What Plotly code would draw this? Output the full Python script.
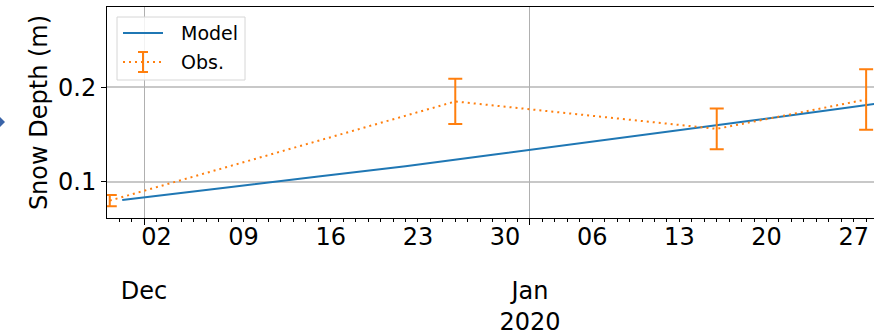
import plotly.graph_objects as go

# ---- data ----
model_dates = ["2019-11-29 06:00", "2019-12-01", "2019-12-08", "2019-12-15", "2019-12-22",
               "2019-12-29", "2020-01-05", "2020-01-12", "2020-01-19", "2020-01-26", "2020-01-29"]
model_depth = [0.0806, 0.0835, 0.0945, 0.1055, 0.1165, 0.1285, 0.1405, 0.1528, 0.1650, 0.1775, 0.1830]

obs_dates = ["2019-11-28 06:00", "2019-12-26", "2020-01-16", "2020-01-28"]
obs_depth = [0.080, 0.185, 0.156, 0.187]
obs_err = [0.006, 0.024, 0.0215, 0.032]

week_ticks = ["2019-12-02", "2019-12-09", "2019-12-16", "2019-12-23", "2019-12-30",
              "2020-01-06", "2020-01-13", "2020-01-20", "2020-01-27"]
week_labels = ["02", "09", "16", "23", "30", "06", "13", "20", "27"]
month_ticks = ["2019-12-01", "2020-01-01"]
month_labels = ["Dec", "Jan<br>2020"]
y_ticks = [0.1, 0.2]
y_labels = ["0.1", "0.2"]

x_range = ["2019-11-28 00:40", "2020-01-28 15:10"]
y_range = [0.0616, 0.285]

W, H = 874, 335
L, R, T, B = 107, 874, 7, 218
FONT = "DejaVu Sans"
FS = 24
BLUE = "#1f77b4"
ORANGE = "#ff7f0e"


def px(xp):
    return (xp - L) / (R - L)


def py(yp):
    return (B - yp) / (B - T)


fig = go.Figure()
fig.add_trace(go.Scatter(x=model_dates, y=model_depth, mode="lines", name="Model",
                         line=dict(color=BLUE, width=2), showlegend=False))
fig.add_trace(go.Scatter(x=obs_dates, y=obs_depth, mode="lines", name="Obs.",
                         line=dict(color=ORANGE, width=2, dash="2px,4px"),
                         error_y=dict(type="data", array=obs_err, color=ORANGE,
                                      thickness=2, width=7),
                         showlegend=False))
fig.add_trace(go.Scatter(x=[], y=[], xaxis="x2", showlegend=False))

shapes = []
annotations = []

# manual legend box
shapes.append(dict(type="rect", xref="paper", yref="paper",
                   x0=px(117), x1=px(245), y0=py(80), y1=py(17),
                   line=dict(color="#d6d6d6", width=1), fillcolor="rgba(255,255,255,0.85)",
                   layer="above"))
shapes.append(dict(type="line", xref="paper", yref="paper",
                   x0=px(123), x1=px(163), y0=py(33), y1=py(33),
                   line=dict(color=BLUE, width=2), layer="above"))
shapes.append(dict(type="line", xref="paper", yref="paper",
                   x0=px(123), x1=px(163), y0=py(62), y1=py(62),
                   line=dict(color=ORANGE, width=2, dash="2px,4px"), layer="above"))
shapes.append(dict(type="line", xref="paper", yref="paper",
                   x0=px(143), x1=px(143), y0=py(52), y1=py(72),
                   line=dict(color=ORANGE, width=2), layer="above"))
for yy in (52, 72):
    shapes.append(dict(type="line", xref="paper", yref="paper",
                       x0=px(138), x1=px(148), y0=py(yy), y1=py(yy),
                       line=dict(color=ORANGE, width=2), layer="above"))
annotations.append(dict(text="Model", xref="paper", yref="paper", x=px(179), y=py(33),
                        xanchor="left", yanchor="middle", showarrow=False,
                        font=dict(family=FONT, size=19, color="black")))
annotations.append(dict(text="Obs.", xref="paper", yref="paper", x=px(179), y=py(62),
                        xanchor="left", yanchor="middle", showarrow=False,
                        font=dict(family=FONT, size=19, color="black")))

# small partial arrow at far left
shapes.append(dict(type="path", xref="paper", yref="paper",
                   path=f"M {px(0)} {py(117)} L {px(5)} {py(122)} L {px(0)} {py(127)} Z",
                   fillcolor="#3a64a8", line=dict(width=0), layer="above"))

fig.update_layout(
    width=W, height=H,
    margin=dict(l=L, r=W - R, t=T, b=H - B, pad=0, autoexpand=False),
    paper_bgcolor="white", plot_bgcolor="white",
    font=dict(family=FONT, size=FS, color="black"),
    shapes=shapes, annotations=annotations,
    xaxis=dict(type="date", range=x_range, tickvals=week_ticks, ticktext=week_labels,
               ticks="outside", ticklen=3, tickwidth=1, tickcolor="black",
               showgrid=False, zeroline=False, showline=True, linecolor="black",
               linewidth=1, mirror=True, automargin=False, ticklabelstandoff=-6,
               minor=dict(ticks="outside", ticklen=3, tickcolor="black", dtick=86400000,
                          tick0="2019-11-28", showgrid=False),
               tickfont=dict(family=FONT, size=FS)),
    xaxis2=dict(type="date", range=x_range, overlaying="x", anchor="y", side="bottom",
                tickvals=month_ticks, ticktext=month_labels, automargin=False,
                ticks="outside", ticklen=6, tickcolor="black",
                showgrid=True, gridcolor="#b0b0b0", gridwidth=1,
                showline=False, zeroline=False, ticklabelstandoff=45,
                tickfont=dict(family=FONT, size=FS)),
    yaxis=dict(range=y_range, tickvals=y_ticks, ticktext=y_labels, automargin=False,
               ticks="outside", ticklen=5, tickcolor="black",
               showgrid=True, gridcolor="#c8c8c8", gridwidth=1.5,
               zeroline=False, showline=True, linecolor="black", linewidth=1,
               title=dict(text="Snow Depth (m)", standoff=3,
                          font=dict(family=FONT, size=FS)),
               tickfont=dict(family=FONT, size=FS)),
)

fig.write_html("out.html")
